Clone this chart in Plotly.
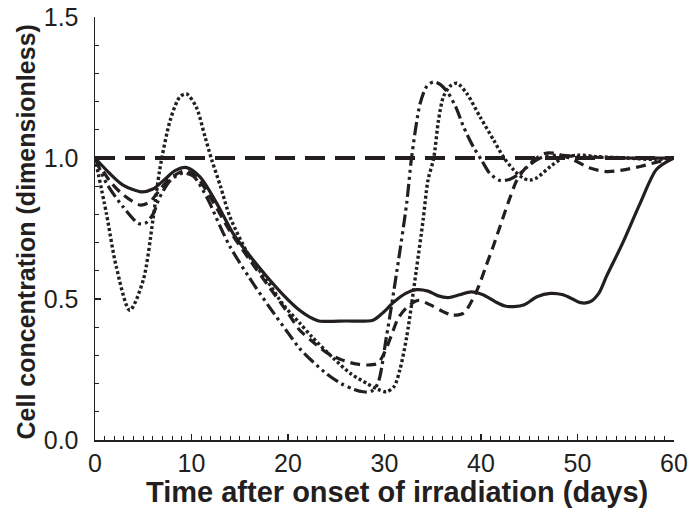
import plotly.graph_objects as go

# ---- data ----
control_x = [0, 60]
control_y = [1.0, 1.0]

solid_x = [0, 1.5, 2.9, 4.8, 6.0, 7.1, 8.3, 9.5, 10.9, 12.6, 14.3, 16, 17.8, 19.5, 21.2, 22.3, 23.2, 26,
           28.8, 29.8, 31, 32.2, 33.3, 34.5, 35.5, 36.6, 37.8, 39.0, 40.2, 41.5, 42.5, 43.4, 44.5, 45.8,
           47.2, 48.5, 49.5, 50.3, 51.3, 52.2, 53.0, 54.7, 56.5, 58.2, 60]
solid_y = [1.0, 0.946, 0.904, 0.88, 0.89, 0.92, 0.955, 0.966, 0.932, 0.84, 0.733, 0.655, 0.58, 0.515, 0.46,
           0.435, 0.422, 0.422, 0.425, 0.45, 0.49, 0.52, 0.533, 0.528, 0.512, 0.505, 0.515, 0.525, 0.515,
           0.49, 0.475, 0.473, 0.48, 0.508, 0.52, 0.515, 0.5, 0.487, 0.49, 0.52, 0.58, 0.70, 0.84, 0.96, 1.0]

dashed_x = [0, 1.5, 2.9, 4.7, 5.7, 6.7, 7.8, 9.3, 10.5, 12.3, 14, 16, 18, 20, 21.2, 22.5, 24, 25.5, 27, 28.2,
            29.3, 30.0, 30.7, 31.4, 32.3, 33.5, 34.7, 35.8, 37.0, 38.2, 39.0, 39.7, 40.5, 41.3, 42.0, 42.8,
            43.7, 44.5, 45.4, 46.5, 47.5, 49.5, 51.2, 53, 54.8, 56.5, 58.2, 60]
dashed_y = [1.0, 0.92, 0.87, 0.833, 0.845, 0.887, 0.928, 0.955, 0.934, 0.84, 0.74, 0.64, 0.545, 0.45, 0.39,
            0.35, 0.31, 0.285, 0.27, 0.266, 0.272, 0.31, 0.37, 0.43, 0.47, 0.495, 0.48, 0.46, 0.443, 0.45,
            0.49, 0.54, 0.615, 0.69, 0.76, 0.84, 0.92, 0.96, 0.99, 1.015, 1.017, 0.995, 0.965, 0.952, 0.958,
            0.97, 0.985, 1.0]

dashdot_x = [0, 1.2, 2.9, 4.5, 5.2, 6.0, 6.7, 7.8, 9.1, 10.2, 11.6, 13, 14, 16, 18, 20, 21.2, 22.5, 24, 25.5,
             26.8, 27.8, 28.6, 29.3, 30.2, 31.3, 32.3, 32.8, 33.7, 34.4, 35.1, 35.8, 36.6, 37.4, 38.2, 39.2,
             40.1, 40.9, 42.0, 43.0, 43.8, 44.7, 45.6, 46.5, 48, 50, 55, 60]
dashdot_y = [1.0, 0.91, 0.827, 0.768, 0.768, 0.80, 0.86, 0.92, 0.946, 0.935, 0.86, 0.755, 0.685, 0.575, 0.475,
             0.38, 0.325, 0.28, 0.235, 0.2, 0.18, 0.171, 0.172, 0.2, 0.366, 0.603, 0.84, 1.0, 1.194, 1.255,
             1.27, 1.26, 1.23, 1.18, 1.11, 1.04, 0.99, 0.946, 0.92, 0.925, 0.94, 0.965, 0.99, 1.005, 1.01,
             1.005, 1.0, 1.0]

dotted_x = [0, 1.2, 2.2, 3.6, 5.0, 6.0, 6.7, 7.8, 8.8, 9.5, 10.5, 11.4, 12.1, 13, 14, 16.1, 17.8, 19.5, 21.2,
            22.5, 24.7, 26.5, 28.2, 29.3, 30.2, 31.0, 31.6, 32.3, 33.3, 34.0, 34.5, 35.1, 35.6, 36.1, 36.8,
            37.5, 38.5, 39.9, 41.3, 42.3, 43.4, 44.4, 45.1, 45.8, 47.2, 48.5, 50, 52, 55, 58, 60]
dotted_y = [1.0, 0.80, 0.615, 0.46, 0.567, 0.78, 0.957, 1.135, 1.217, 1.227, 1.18, 1.075, 0.993, 0.9, 0.79,
            0.645, 0.567, 0.48, 0.415, 0.365, 0.29, 0.235, 0.2, 0.18, 0.171, 0.19, 0.25, 0.366, 0.603, 0.78,
            0.92, 1.0, 1.135, 1.217, 1.255, 1.265, 1.23, 1.146, 1.064, 1.005, 0.957, 0.928, 0.922, 0.93,
            0.97, 1.0, 1.01, 1.005, 1.0, 0.995, 1.0]

x_ticks = [0, 10, 20, 30, 40, 50, 60]
y_ticks = [0.0, 0.5, 1.0, 1.5]
y_tick_labels = ["0.0", "0.5", "1.0", "1.5"]
x_title = "Time after onset of irradiation (days)"
y_title = "Cell concentration (dimensionless)"

INK = "#231f20"
FONT = "Liberation Sans, Arial, sans-serif"

fig = go.Figure()

series = [
    (solid_x, solid_y, "solid", 3.2),
    (dashed_x, dashed_y, "10px,6px", 3.2),
    (dashdot_x, dashdot_y, "13px,4px,3px,4px,3px,4px", 3.2),
    (dotted_x, dotted_y, "3px,2.5px", 3.4),
    (control_x, control_y, "20px,10px", 4),
]
for xs, ys, dash, w in series:
    fig.add_trace(go.Scatter(
        x=xs, y=ys, mode="lines",
        line=dict(color=INK, width=w, dash=dash, shape="spline", smoothing=0.8),
        showlegend=False, hoverinfo="skip",
    ))

axis_common = dict(
    showline=True, linecolor=INK, linewidth=1.5,
    ticks="inside", ticklen=6, tickwidth=1.2, tickcolor=INK,
    showgrid=False, zeroline=False, mirror=False, automargin=False,
    ticklabeloverflow="allow",
    tickfont=dict(family=FONT, size=25, color=INK),
)

fig.update_xaxes(
    range=[0, 60], tickvals=x_ticks,
    minor=dict(dtick=1, ticks="inside", ticklen=4, tickwidth=1, tickcolor=INK, showgrid=False),
    ticklabelstandoff=0,
    **axis_common,
)
fig.update_yaxes(
    range=[0, 1.5], tickvals=y_ticks, ticktext=y_tick_labels,
    minor=dict(dtick=0.1, ticks="inside", ticklen=4, tickwidth=1, tickcolor=INK, showgrid=False),
    ticklabelstandoff=10,
    **axis_common,
)

fig.add_annotation(
    text=x_title, xref="paper", yref="paper", x=0.5, y=0, xanchor="center", yanchor="middle",
    xshift=12, yshift=-52, showarrow=False,
    font=dict(family=FONT, size=29, color=INK, weight="bold"),
)
fig.add_annotation(
    text=y_title, xref="paper", yref="paper", x=0, y=0.5, xanchor="center", yanchor="middle",
    xshift=-70, yshift=-4, textangle=-90, showarrow=False,
    font=dict(family=FONT, size=25, color=INK, weight="bold"),
)

fig.update_layout(
    width=697, height=524,
    margin=dict(l=95, r=23, t=17, b=84),
    plot_bgcolor="white", paper_bgcolor="white",
    hovermode=False,
)

fig.write_html("out.html", config={"displayModeBar": False, "staticPlot": True},
               post_script="document.body.style.margin='0';")
